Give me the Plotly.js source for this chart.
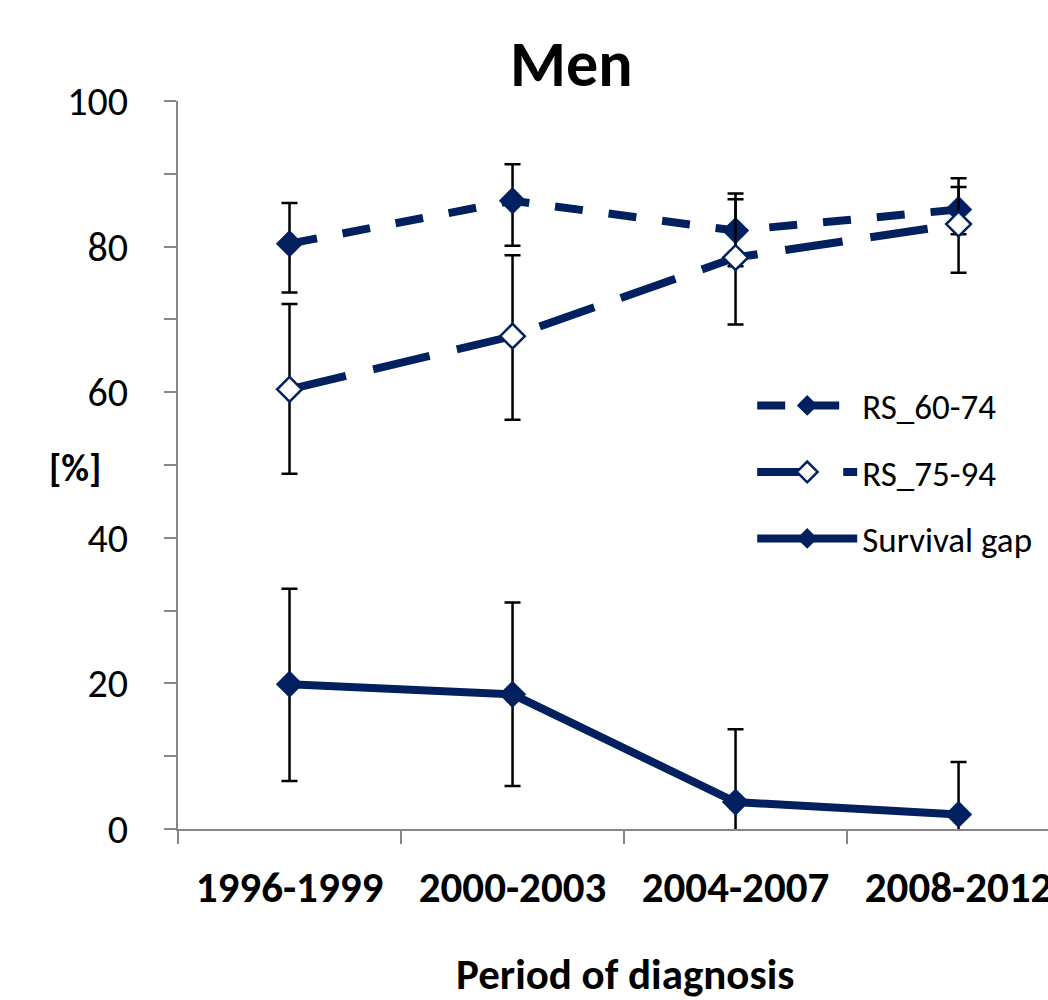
<!DOCTYPE html>
<html>
<head>
<meta charset="utf-8">
<script src="https://cdn.plot.ly/plotly-3.0.1.min.js"></script>
<style>html,body{margin:0;padding:0;background:#fff;}#chart{width:1048px;height:1000px;}</style>
</head>
<body>
<div id="chart"></div>
<script>
// ---- data ----
const categories = ['1996-1999', '2000-2003', '2004-2007', '2008-2012'];

const rs6074      = [80.4, 86.3, 82.2, 85.1];
const rs6074Upper = [86.0, 91.3, 86.5, 88.2];
const rs6074Lower = [73.7, 80.1, 77.3, 81.7];

const rs7594      = [60.4, 67.7, 78.5, 83.1];
const rs7594Upper = [72.1, 78.8, 87.3, 89.4];
const rs7594Lower = [48.8, 56.2, 69.3, 76.4];

const gap      = [19.9, 18.5, 3.7, 2.0];
const gapUpper = [33.0, 31.1, 13.7, 9.2];
const gapLower = [6.6, 5.9, -6.3, -5.2];

const seriesNames = ['RS_60-74', 'RS_75-94', 'Survival gap'];
const yTickVals = [0, 20, 40, 60, 80, 100];

// ---- styling ----
const NAVY = '#002060';
const FONT = 'Carlito, Lato, sans-serif';

function err(vals, up, lo) {
  return {
    type: 'data', symmetric: false,
    array: up.map((u, i) => u - vals[i]),
    arrayminus: lo.map((l, i) => vals[i] - l),
    color: '#000000', thickness: 2.5, width: 8
  };
}

const traces = [
  {
    x: categories, y: rs6074, name: seriesNames[0], type: 'scatter', mode: 'lines+markers',
    legendgroup: 'a',
    line: {color: NAVY, width: 8, dash: '28px,26px'},
    marker: {symbol: 'diamond', size: 21, color: NAVY, line: {width: 0}},
    error_y: err(rs6074, rs6074Upper, rs6074Lower)
  },
  {
    x: categories, y: rs7594, name: seriesNames[1], type: 'scatter', mode: 'lines+markers',
    legendgroup: 'b',
    line: {color: NAVY, width: 8, dash: '58px,28px'},
    marker: {symbol: 'diamond', size: 19, color: '#ffffff', line: {width: 2.5, color: NAVY}},
    error_y: err(rs7594, rs7594Upper, rs7594Lower)
  },
  {
    x: categories, y: gap, name: seriesNames[2], type: 'scatter', mode: 'lines+markers',
    legendgroup: 'c',
    line: {color: NAVY, width: 8},
    marker: {symbol: 'diamond', size: 21, color: NAVY, line: {width: 0}},
    error_y: err(gap, gapUpper, gapLower)
  }
];

const layout = {
  width: 1048, height: 1000,
  margin: {l: 178, r: 0, t: 101, b: 171, pad: 0},
  paper_bgcolor: '#ffffff', plot_bgcolor: '#ffffff',
  font: {family: FONT, color: '#000000'},
  showlegend: true,
  title: {
    text: '<b>Men</b>', font: {family: FONT, size: 64, color: '#000'},
    xref: 'paper', x: 0.452, xanchor: 'center',
    yref: 'container', y: 0.936, yanchor: 'middle'
  },
  xaxis: {
    type: 'category', categoryorder: 'array', categoryarray: categories,
    range: [-0.5, 3.401], fixedrange: true,
    showline: true, linecolor: '#868686', linewidth: 2,
    ticks: 'outside', tickson: 'boundaries', ticklen: 13, tickwidth: 2, tickcolor: '#868686',
    tickfont: {family: FONT, size: 43, color: '#000', weight: 'bold'},
    ticklabelstandoff: 19,
    showgrid: false, zeroline: false
  },
  yaxis: {
    range: [0, 100], fixedrange: true,
    tickvals: yTickVals,
    showline: true, linecolor: '#868686', linewidth: 2,
    ticks: 'outside', ticklen: 12, tickwidth: 2, tickcolor: '#868686',
    minor: {dtick: 10, ticks: 'outside', ticklen: 12, tickwidth: 2, tickcolor: '#868686', showgrid: false},
    tickfont: {family: FONT, size: 40, color: '#000'},
    ticklabelstandoff: 28,
    showgrid: false, zeroline: false
  },
  legend: {
    x: 0.66, xanchor: 'left', y: 0.622, yanchor: 'top',
    bgcolor: 'rgba(0,0,0,0)', borderwidth: 0,
    font: {family: FONT, size: 35, color: '#000'},
    itemwidth: 100, tracegroupgap: 18, itemclick: false
  },
  annotations: [
    {text: '<b>[%]</b>', xref: 'paper', yref: 'paper', x: -0.118, y: 0.496,
     xanchor: 'center', yanchor: 'middle', showarrow: false,
     font: {family: FONT, size: 38, color: '#000'}},
    {text: '<b>Period of diagnosis</b>', xref: 'paper', yref: 'paper', x: 0.514, y: -0.2,
     xanchor: 'center', yanchor: 'middle', showarrow: false,
     font: {family: FONT, size: 43, color: '#000'}}
  ]
};

Plotly.newPlot('chart', traces, layout, {displayModeBar: false, staticPlot: true});
</script>
</body>
</html>
